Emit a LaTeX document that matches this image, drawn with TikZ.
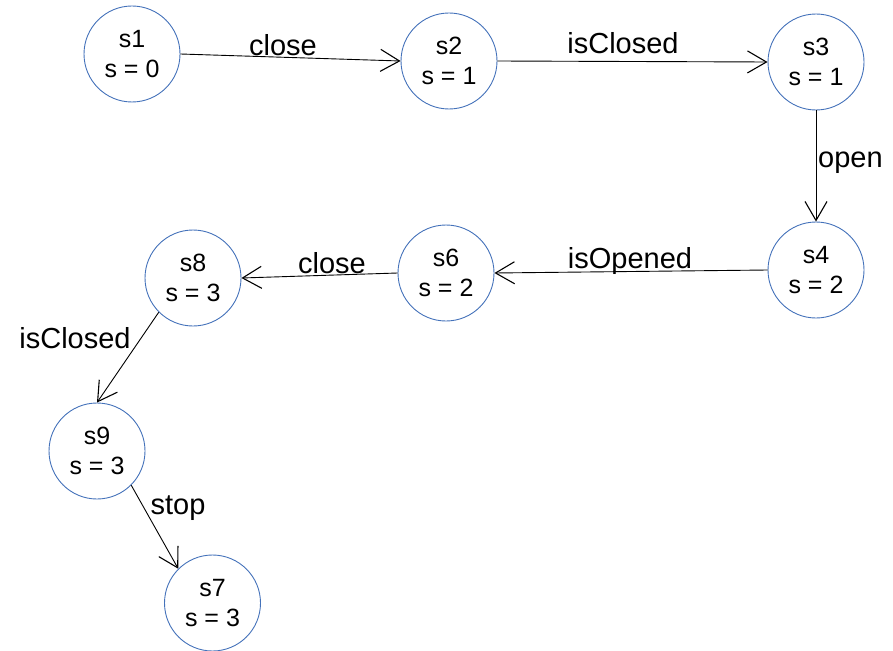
\documentclass[tikz,border=0pt]{standalone}
\usepackage{fontspec}
\setmainfont{Liberation Sans}
\usetikzlibrary{arrows.meta}
\definecolor{stateblue}{RGB}{68,114,186}
\tikzset{
  state/.style={circle, draw=stateblue, line width=0.9pt, minimum size=96pt,
    inner sep=0pt, align=center, font=\fontsize{25}{30}\selectfont},
  trans/.style={draw=black, line width=0.9pt,
    -{Straight Barb[length=19pt,width=22pt,line width=1.1pt]}},
  lbl/.style={font=\fontsize{29}{32}\selectfont, inner sep=0pt}
}
\begin{document}
\begin{tikzpicture}[x=1pt,y=-1pt]
\useasboundingbox (0,0) rectangle (893,650);
% states
\node[state] (s1) at (132,54)  {s1\\s = 0};
\node[state] (s2) at (449,61)  {s2\\s = 1};
\node[state] (s3) at (816,62)  {s3\\s = 1};
\node[state] (s4) at (816,270) {s4\\s = 2};
\node[state] (s6) at (446,273) {s6\\s = 2};
\node[state] (s8) at (193,278) {s8\\s = 3};
\node[state] (s9) at (97,451)  {s9\\s = 3};
\node[state] (s7) at (212.5,603) {s7\\s = 3};
% transitions
\draw[trans] (s1.east) -- (s2.west);
\draw[trans] (s2.east) -- (s3.west);
\draw[trans] (s3.south) -- (s4.north);
\draw[trans] (s4.west) -- (s6.east);
\draw[trans] (s6.west) -- (s8.east);
\draw[trans] (s8.225) -- (s9.north);
\draw[trans] (s9.-45) -- (s7.135);
% transition labels
\node[lbl] (l1) at (283,45)  {close};
\node[lbl] (l2) at (623,43)  {isClosed};
\node[lbl, anchor=west] (l3) at (818,163) {open};
\node[lbl] (l4) at (630,261) {isOpened};
\node[lbl] (l5) at (332,263) {close};
\node[lbl] (l6) at (75,338)  {isClosed};
\node[lbl] (l7) at (178,508) {stop};
\end{tikzpicture}
\end{document}
